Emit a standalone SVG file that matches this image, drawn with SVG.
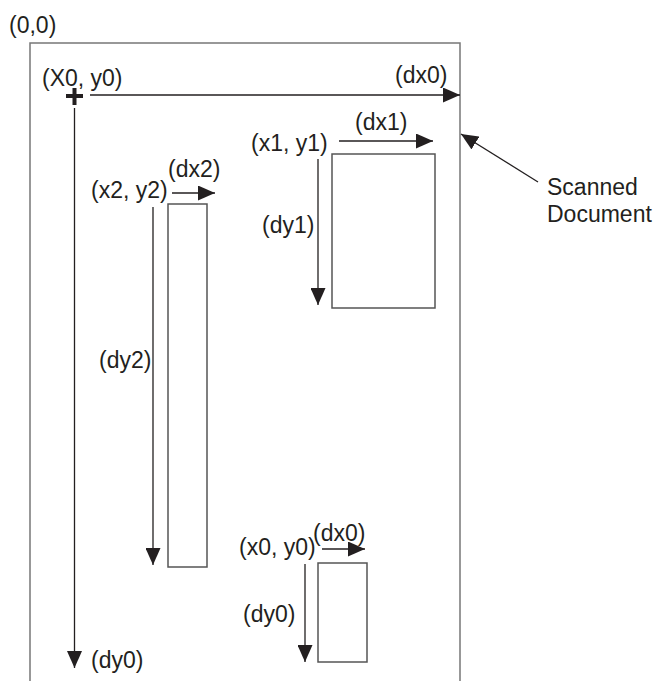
<svg xmlns="http://www.w3.org/2000/svg" width="657" height="681" viewBox="0 0 657 681">
<style>
text{font-family:"Liberation Sans",Arial,sans-serif;font-size:23px;fill:#231f20}
.page{fill:none;stroke:#777;stroke-width:1.5}
.box{fill:#fff;stroke:#555;stroke-width:1.5}
.arr{stroke:#231f20;stroke-width:1.3;fill:none;marker-end:url(#ah)}
</style>
<defs>
<marker id="ah" markerUnits="userSpaceOnUse" markerWidth="17" markerHeight="15" refX="17" refY="7.5" orient="auto">
<path d="M0,0 L17,7.5 L0,15 z" fill="#231f20"/>
</marker>
</defs>
<g id="page"><path class="page" d="M30,681 V43 H460 V681"/></g>
<text x="9" y="33">(0,0)</text>
<g id="origin">
<path d="M66,96 H83 M74.5,88 V105" stroke="#231f20" stroke-width="4"/>
<text x="42" y="86">(X0, y0)</text>
</g>
<g id="region1">
<rect class="box" x="332" y="154" width="103" height="154"/>
<text x="251" y="151">(x1, y1)</text>
<text x="355" y="130">(dx1)</text>
<text x="262" y="233">(dy1)</text>
</g>
<g id="region2">
<rect class="box" x="168" y="204" width="39" height="363"/>
<text x="91" y="198">(x2, y2)</text>
<text x="168" y="177">(dx2)</text>
<text x="99" y="368">(dy2)</text>
</g>
<g id="region0">
<rect class="box" x="318" y="563" width="49" height="99"/>
<text x="239" y="555">(x0, y0)</text>
<text x="313" y="541">(dx0)</text>
<text x="243" y="622">(dy0)</text>
</g>
<g id="labels">
<text x="395" y="83">(dx0)</text>
<text x="91" y="668">(dy0)</text>
<text x="547" y="195">Scanned</text>
<text x="547" y="222">Document</text>
</g>
<g id="connectors">
<line class="arr" x1="90" y1="95" x2="460" y2="95"/>
<line class="arr" x1="74.5" y1="108" x2="74.5" y2="668"/>
<line class="arr" x1="538" y1="182" x2="461" y2="134"/>
<line class="arr" x1="339" y1="141" x2="433" y2="141"/>
<line class="arr" x1="318" y1="159" x2="318" y2="305"/>
<line class="arr" x1="172" y1="193" x2="215" y2="193"/>
<line class="arr" x1="153" y1="207" x2="153" y2="565"/>
<line class="arr" x1="322" y1="549" x2="365" y2="549"/>
<line class="arr" x1="305" y1="564" x2="305" y2="662"/>
</g>
</svg>
